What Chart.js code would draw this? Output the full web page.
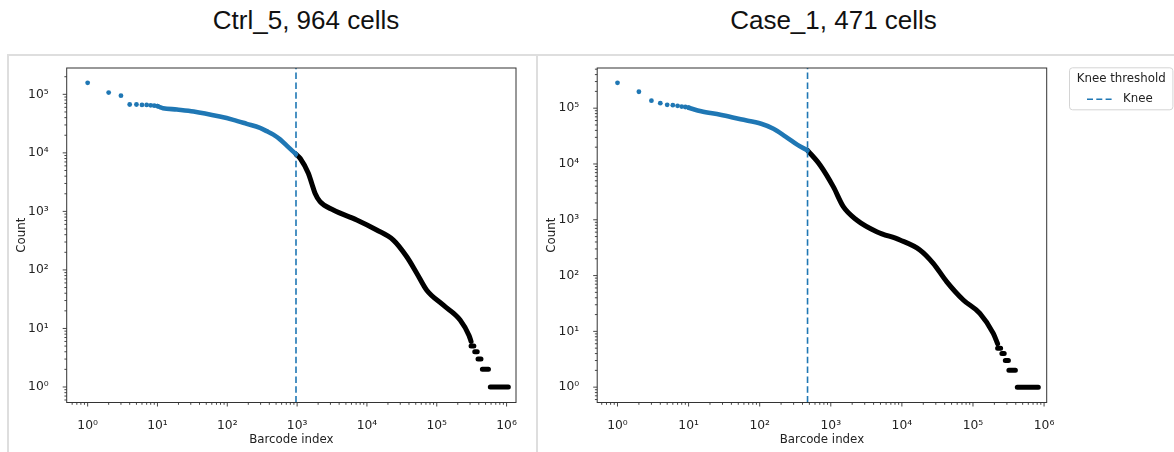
<!DOCTYPE html>
<html><head><meta charset="utf-8">
<script src="https://cdn.jsdelivr.net/npm/chart.js@4.4.1/dist/chart.umd.min.js"></script>
<style>
html,body{margin:0;padding:0;background:#fff;}
body{width:1174px;height:452px;position:relative;overflow:hidden;font-family:"Liberation Sans",Arial,sans-serif;}
.title{position:absolute;top:5px;width:400px;text-align:center;font-size:26px;color:#111;white-space:nowrap;}
.hline{position:absolute;left:6.5px;top:54px;width:1168px;height:2px;background:#dedede;}
.vline{position:absolute;top:54px;width:2px;height:400px;background:#dedede;}
#wrapA{position:absolute;left:0;top:0;width:537px;height:452px;}
#wrapB{position:absolute;left:537px;top:0;width:637px;height:452px;}
canvas{display:block;}
</style></head>
<body>
<div class="hline"></div>
<div class="vline" style="left:6.5px"></div>
<div class="vline" style="left:536px"></div>
<div class="title" id="tA" style="left:106px"></div>
<div class="title" id="tB" style="left:633.5px"></div>
<div id="wrapA"><canvas id="cA" width="537" height="452"></canvas></div>
<div id="wrapB"><canvas id="cB" width="637" height="452"></canvas></div>
<script>
// ---------- data ----------
const ctrlTitle = 'Ctrl_5, 964 cells';
const caseTitle = 'Case_1, 471 cells';
const ctrlKnee = 964;
const caseKnee = 471;

const ctrlTopRanks  = [1, 2, 3, 4, 5, 6, 7, 8, 9, 10];
const ctrlTopCounts = [157000, 107000, 95000, 67000, 67000, 66000, 66000, 65000, 64000, 63000];
const ctrlCellRanks  = [10, 11, 12, 19, 33, 78, 122, 190, 294, 367, 457, 569, 710, 964];
const ctrlCellCounts = [63000, 60000, 58000, 55000, 51000, 41700, 36600, 31300, 26700, 23500, 20500, 17000, 13300, 9500];
const ctrlBgRanks  = [964, 1110, 1448, 1618, 1806, 2130, 3300, 7150, 13800, 23900, 37200, 51700, 71900, 124500, 216000, 290000, 310000];
const ctrlBgCounts = [9500, 8000, 4480, 3020, 2040, 1466, 1057, 713, 481, 324, 168, 88, 45, 25, 14, 7.6, 6];
const ctrlStepCounts = [5, 4, 3, 2, 1];
const ctrlStepFrom   = [310000, 350000, 390000, 450000, 585000];
const ctrlStepTo     = [340000, 380000, 430000, 550000, 1060000];

const caseTopRanks  = [1, 2, 3, 4, 5, 6, 7, 8, 9, 10];
const caseTopCounts = [285000, 197000, 136000, 123000, 115000, 113000, 110000, 107000, 105000, 102000];
const caseCellRanks  = [10, 15, 28, 54, 105, 156, 231, 341, 471];
const caseCellCounts = [102000, 88000, 76000, 63000, 52500, 42700, 31000, 22000, 17500];
const caseBgRanks  = [471, 705, 1084, 1500, 2312, 4420, 9400, 17900, 27600, 42600, 73100, 125000, 193000, 222000];
const caseBgCounts = [17500, 9600, 3920, 1718, 992, 612, 434, 288, 166, 78, 36.5, 21, 9.2, 6];
const caseStepCounts = [5, 4, 3, 2, 1];
const caseStepFrom   = [222000, 255000, 285000, 320000, 420000];
const caseStepTo     = [245000, 275000, 315000, 395000, 830000];

const tickValues = [1, 10, 100, 1000, 10000, 100000, 1000000];
const tickLabels = ['10⁰', '10¹', '10²', '10³', '10⁴', '10⁵', '10⁶'];
const xAxisTitle = 'Barcode index';
const yAxisTitle = 'Count';
const legendTitle = 'Knee threshold';
const legendLabel = 'Knee';

// ---------- styling ----------
const BLUE = '#1f77b4';
const INK = '#222';
const AX = '#333';
const FONT = {family: 'DejaVu Sans', size: 11.8};
const TICKFONT = {family: 'DejaVu Sans', size: 12.3};

const pts = (xs, ys) => xs.map((x, i) => ({x: x, y: ys[i]}));
const steps = (cs, from, to) => {
  const out = [];
  cs.forEach((c, i) => { out.push({x: from[i], y: c}, {x: to[i], y: c}, {x: to[i], y: null}); });
  return out;
};
const labelFor = v => { const e = Math.round(Math.log10(v)); const i = tickValues.indexOf(Math.pow(10, e)); return i >= 0 ? tickLabels[i] : ''; };

const axesDecor = {
  id: 'axesDecor',
  afterDatasetsDraw(chart) {
    const {ctx, chartArea: a, scales: {x, y}} = chart;
    ctx.save();
    ctx.strokeStyle = AX;
    ctx.lineWidth = 0.9;
    ctx.beginPath();
    const lx = Math.log10(x.min), hx = Math.log10(x.max);
    for (let e = Math.floor(lx); e <= Math.ceil(hx); e++) {
      for (let m = 1; m <= 9; m++) {
        const v = m * Math.pow(10, e);
        if (v < x.min || v > x.max) continue;
        const px = x.getPixelForValue(v);
        const len = m === 1 ? 4 : 2.3;
        ctx.moveTo(px, a.bottom); ctx.lineTo(px, a.bottom + len);
      }
    }
    const ly = Math.log10(y.min), hy = Math.log10(y.max);
    for (let e = Math.floor(ly); e <= Math.ceil(hy); e++) {
      for (let m = 1; m <= 9; m++) {
        const v = m * Math.pow(10, e);
        if (v < y.min || v > y.max) continue;
        const py = y.getPixelForValue(v);
        const len = m === 1 ? 4 : 2.3;
        ctx.moveTo(a.left, py); ctx.lineTo(a.left - len, py);
      }
    }
    ctx.stroke();
    ctx.lineWidth = 1;
    ctx.strokeRect(a.left, a.top, a.right - a.left, a.bottom - a.top);
    ctx.restore();
  }
};

const kneeLegend = {
  id: 'kneeLegend',
  afterDraw(chart, args, o) {
    if (!o.show) return;
    const {ctx, chartArea: a} = chart;
    const L = a.right + 22.3, T = a.top - 0.7, W = 103.4, H = 42;
    ctx.save();
    ctx.beginPath();
    ctx.roundRect(L + 0.5, T + 0.5, W, H, 3);
    ctx.fillStyle = 'rgba(255,255,255,0.85)';
    ctx.fill();
    ctx.strokeStyle = '#d4d4d4';
    ctx.lineWidth = 1;
    ctx.stroke();
    ctx.fillStyle = INK;
    ctx.font = FONT.size + 'px "DejaVu Sans"';
    ctx.textBaseline = 'middle';
    ctx.textAlign = 'center';
    ctx.fillText(o.title, L + W / 2 + 0.5, T + 11.5);
    ctx.beginPath();
    ctx.setLineDash([6, 3.3]);
    ctx.strokeStyle = BLUE;
    ctx.lineWidth = 1.6;
    ctx.moveTo(L + 18, T + 32); ctx.lineTo(L + 44, T + 32);
    ctx.stroke();
    ctx.setLineDash([]);
    ctx.textAlign = 'left';
    ctx.fillText(o.label, L + 54, T + 32);
    ctx.restore();
  }
};

function makeChart(canvasId, cfg) {
  const datasets = [
    {label: 'knee', data: [{x: cfg.knee, y: cfg.ymin}, {x: cfg.knee, y: cfg.ymax}], showLine: true,
     borderColor: BLUE, borderWidth: 1.6, borderDash: [6.5, 3.3], pointRadius: 0, clip: false},
    {label: 'top', data: pts(cfg.topRanks, cfg.topCounts), showLine: false,
     pointRadius: 2.4, pointBorderWidth: 0, backgroundColor: BLUE, borderColor: BLUE},
    {label: 'cells', data: pts(cfg.cellRanks, cfg.cellCounts), showLine: true, pointRadius: 0,
     borderColor: BLUE, borderWidth: 4.6, borderCapStyle: 'round', borderJoinStyle: 'round', cubicInterpolationMode: 'monotone'},
    {label: 'background', data: pts(cfg.bgRanks, cfg.bgCounts), showLine: true, pointRadius: 0,
     borderColor: '#000', borderWidth: 5, borderCapStyle: 'round', borderJoinStyle: 'round', cubicInterpolationMode: 'monotone'},
    {label: 'steps', data: steps(cfg.stepCounts, cfg.stepFrom, cfg.stepTo), showLine: true, spanGaps: false, pointRadius: 0,
     borderColor: '#000', borderWidth: 5, borderCapStyle: 'round'}
  ];
  return new Chart(document.getElementById(canvasId), {
    type: 'scatter',
    data: {datasets},
    options: {
      responsive: false, animation: false, events: [],
      layout: {autoPadding: false, padding: {left: 0, top: 68, right: cfg.padRight, bottom: 0}},
      plugins: {legend: {display: false}, tooltip: {enabled: false}, title: {display: false},
                kneeLegend: {show: cfg.legend, title: legendTitle, label: legendLabel}},
      scales: {
        x: {type: 'logarithmic', position: 'bottom', min: cfg.xmin, max: cfg.xmax, bounds: 'data',
            grid: {display: false}, border: {display: false},
            ticks: {autoSkip: false, maxRotation: 0, padding: 8, color: INK, font: TICKFONT, callback: v => labelFor(v)},
            title: {display: true, text: xAxisTitle, color: INK, font: FONT, padding: {top: 0, bottom: 4.9}},
            afterBuildTicks: s => { s.ticks = tickValues.filter(v => v >= s.min && v <= s.max).map(v => ({value: v})); },
            afterFit: s => { s.height = 49.5; }},
        y: {type: 'logarithmic', position: 'left', min: cfg.ymin, max: cfg.ymax, bounds: 'data',
            grid: {display: false}, border: {display: false},
            ticks: {autoSkip: false, padding: 10, color: INK, font: TICKFONT, callback: v => labelFor(v)},
            title: {display: true, text: yAxisTitle, color: INK, font: FONT, padding: {top: cfg.yTitlePad, bottom: 0}},
            afterBuildTicks: s => { s.ticks = tickValues.filter(v => v >= s.min && v <= s.max).map(v => ({value: v})); },
            afterFit: s => { s.width = cfg.yWidth; }}
      }
    },
    plugins: [axesDecor, kneeLegend]
  });
}

document.getElementById('tA').textContent = ctrlTitle;
document.getElementById('tB').textContent = caseTitle;

makeChart('cA', {
  knee: ctrlKnee, topRanks: ctrlTopRanks, topCounts: ctrlTopCounts,
  cellRanks: ctrlCellRanks, cellCounts: ctrlCellCounts, bgRanks: ctrlBgRanks, bgCounts: ctrlBgCounts,
  stepCounts: ctrlStepCounts, stepFrom: ctrlStepFrom, stepTo: ctrlStepTo,
  xmin: Math.pow(10, -0.3), xmax: Math.pow(10, 6.135), ymin: Math.pow(10, -0.265), ymax: Math.pow(10, 5.45),
  padRight: 21, yWidth: 66.7, yTitlePad: 14.9, legend: false
});
makeChart('cB', {
  knee: caseKnee, topRanks: caseTopRanks, topCounts: caseTopCounts,
  cellRanks: caseCellRanks, cellCounts: caseCellCounts, bgRanks: caseBgRanks, bgCounts: caseBgCounts,
  stepCounts: caseStepCounts, stepFrom: caseStepFrom, stepTo: caseStepTo,
  xmin: Math.pow(10, -0.2855), xmax: Math.pow(10, 6.037), ymin: Math.pow(10, -0.275), ymax: Math.pow(10, 5.72),
  padRight: 127.3, yWidth: 60.2, yTitlePad: 7.9, legend: true
});
</script>
</body></html>
